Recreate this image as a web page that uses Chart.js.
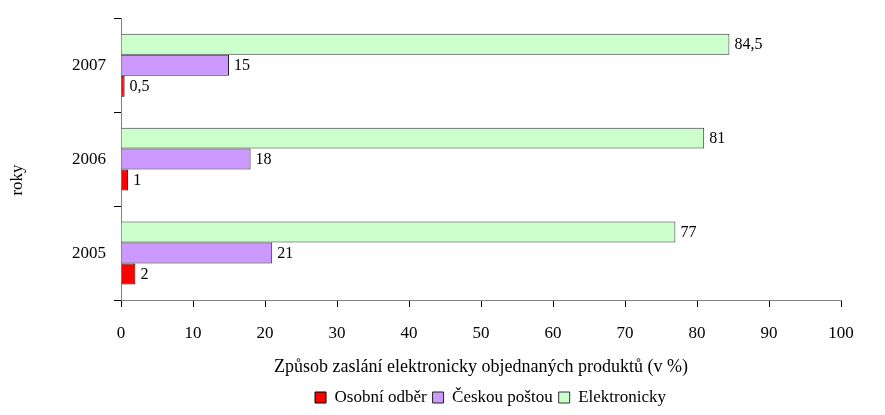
<!DOCTYPE html>
<html>
<head>
<meta charset="utf-8">
<script src="https://cdn.jsdelivr.net/npm/chart.js@4/dist/chart.umd.min.js"></script>
<style>
  html, body { margin: 0; padding: 0; background: #fff; }
  #wrap { width: 885px; height: 415px; }
</style>
</head>
<body>
<div id="wrap"><canvas id="myChart"></canvas></div>
<script>
const years = ['2007', '2006', '2005'];
const osobni = [0.5, 1, 2];
const postou = [15, 18, 21];
const elektronicky = [84.5, 81, 77];
const xTicks = [0, 10, 20, 30, 40, 50, 60, 70, 80, 90, 100];

const serif = "'Liberation Serif', 'Times New Roman', serif";

// value labels at the end of each bar (decimal comma) + the "roky" axis caption
const extras = {
  id: 'extras',
  afterLayout(chart) {
    // legend sits a bit right of centre
    const lg = chart.legend;
    lg.left += 70; lg.right += 70;
    lg.top += 1; lg.bottom += 1;
  },
  afterDatasetsDraw(chart) {
    const ctx = chart.ctx;
    ctx.save();
    ctx.font = '16px ' + serif;
    ctx.fillStyle = '#000';
    ctx.textBaseline = 'middle';
    chart.data.datasets.forEach((ds, i) => {
      chart.getDatasetMeta(i).data.forEach((bar, j) => {
        const txt = String(ds.data[j]).replace('.', ',');
        ctx.fillText(txt, bar.x + 5, bar.y + 1);
      });
    });
    ctx.translate(18, 180);
    ctx.rotate(-Math.PI / 2);
    ctx.textAlign = 'center';
    ctx.font = '17px ' + serif;
    ctx.fillText('roky', 0, 0);
    ctx.restore();
  }
};

const ctx = document.getElementById('myChart');

new Chart(ctx, {
  type: 'bar',
  data: {
    labels: years,
    datasets: [
      {
        label: 'Elektronicky',
        data: elektronicky,
        backgroundColor: '#ccffcc',
        borderColor: '#333',
        borderWidth: 1
      },
      {
        label: 'Českou poštou',
        data: postou,
        backgroundColor: '#cc99ff',
        borderColor: '#222',
        borderWidth: 1
      },
      {
        label: 'Osobní odběr',
        data: osobni,
        backgroundColor: '#ff0000',
        borderColor: '#000',
        borderWidth: 1
      }
    ]
  },
  options: {
    indexAxis: 'y',
    responsive: true,
    maintainAspectRatio: false,
    animation: false,
    layout: { padding: { top: 18, right: 44, left: 0, bottom: 0 } },
    datasets: {
      bar: { categoryPercentage: 0.67, barPercentage: 1 }
    },
    scales: {
      x: {
        min: 0,
        max: 100,
        afterBuildTicks: (scale) => { scale.ticks = xTicks.map(v => ({ value: v })); },
        grid: { drawOnChartArea: false, tickLength: 7, color: '#000' },
        border: { color: '#808080', width: 1 },
        ticks: { color: '#000', font: { family: serif, size: 17 }, padding: 16 },
        title: {
          display: true,
          text: 'Způsob zaslání elektronicky objednaných produktů (v %)',
          color: '#000',
          font: { family: serif, size: 18 },
          padding: { top: 0, bottom: 4 }
        },
        afterFit: (scale) => { scale.height = 82; }
      },
      y: {
        grid: { drawOnChartArea: false, tickLength: 7, offset: true, color: '#000' },
        border: { color: '#808080', width: 1 },
        ticks: { color: '#000', font: { family: serif, size: 17 }, padding: 8 },
        afterFit: (scale) => { scale.width = 121; }
      }
    },
    plugins: {
      legend: {
        position: 'bottom',
        reverse: true,
        labels: {
          color: '#000',
          font: { family: serif, size: 17 },
          boxWidth: 11,
          boxHeight: 11,
          padding: 6
        }
      },
      tooltip: { enabled: false }
    }
  },
  plugins: [extras]
});
</script>
</body>
</html>
